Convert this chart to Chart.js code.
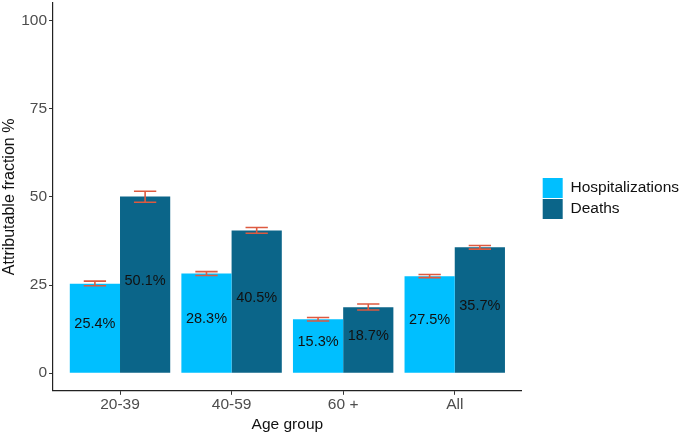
<!DOCTYPE html>
<html>
<head>
<meta charset="utf-8">
<script src="https://cdn.jsdelivr.net/npm/chart.js@4.4.1/dist/chart.umd.min.js"></script>
<style>
  html, body { margin: 0; padding: 0; background: #fff; }
  #wrap { width: 685px; height: 434px; }
</style>
</head>
<body>
<div id="wrap"><canvas id="myChart" width="685" height="434"></canvas></div>
<script>
// Attributable fraction by age group
const ageGroups = ["20-39", "40-59", "60 +", "All"];
const hospitalizations = [25.4, 28.3, 15.3, 27.5];
const deaths = [50.1, 40.5, 18.7, 35.7];
// confidence intervals
const hospLow = [24.8, 27.7, 14.8, 27.1];
const hospHigh = [26.1, 28.8, 15.8, 28.0];
const deathLow = [48.5, 39.7, 17.9, 35.2];
const deathHigh = [51.6, 41.3, 19.6, 36.2];
const yTicks = [0, 25, 50, 75, 100];

const fontName = "'Liberation Sans', Arial, sans-serif";

function toPoints(values) {
	return values.map(function(v, i) { return {x: i + 1, y: v}; });
}

/** Draws the error bars and the % labels on the bars */
const barExtras = {
	id: "barExtras",
	afterDatasetsDraw: function(chart) {
		const ctx = chart.ctx;
		const yScale = chart.scales.y;
		const xScale = chart.scales.x;
		const capHalf = xScale.getPixelForValue(1.1) - xScale.getPixelForValue(1);
		ctx.save();
		chart.data.datasets.forEach(function(ds, di) {
			const meta = chart.getDatasetMeta(di);
			meta.data.forEach(function(bar, i) {
				const val = ds.data[i].y;
				// label in the middle of the bar
				ctx.fillStyle = "#111";
				ctx.font = "14.5px " + fontName;
				ctx.textAlign = "center";
				ctx.textBaseline = "middle";
				ctx.fillText(val.toFixed(1) + "%", bar.x, yScale.getPixelForValue(val / 2 + 1.2));
				// error bar
				const lo = yScale.getPixelForValue(ds.low[i]);
				const hi = yScale.getPixelForValue(ds.high[i]);
				ctx.strokeStyle = "#DD5A40";
				ctx.lineWidth = 1.6;
				ctx.beginPath();
				ctx.moveTo(bar.x, lo); ctx.lineTo(bar.x, hi);
				ctx.moveTo(bar.x - capHalf, lo); ctx.lineTo(bar.x + capHalf, lo);
				ctx.moveTo(bar.x - capHalf, hi); ctx.lineTo(bar.x + capHalf, hi);
				ctx.stroke();
			});
		});
		ctx.restore();
	}
};

/** Moves the legend next to the panel like ggplot does */
const legendPlace = {
	id: "legendPlace",
	afterLayout: function(chart) {
		const lg = chart.legend;
		const dx = 20;
		lg.left += dx; lg.right += dx;
		const h = lg.bottom - lg.top;
		lg.top = 177; lg.bottom = 177 + h;
	}
};

const ctx = document.getElementById("myChart").getContext("2d");
const myChart = new Chart(ctx, {
	type: "bar",
	data: {
		datasets: [{
			label: "Hospitalizations",
			data: toPoints(hospitalizations),
			low: hospLow,
			high: hospHigh,
			backgroundColor: "#00BFFF",
			categoryPercentage: 0.9,
			barPercentage: 1.0
		}, {
			label: "Deaths",
			data: toPoints(deaths),
			low: deathLow,
			high: deathHigh,
			backgroundColor: "#0B6589",
			categoryPercentage: 0.9,
			barPercentage: 1.0
		}]
	},
	options: {
		responsive: false,
		animation: false,
		layout: { padding: { left: 0, right: 16, top: 3, bottom: 0 } },
		plugins: {
			tooltip: { enabled: false },
			legend: {
				position: "right",
				align: "start",
				labels: {
					boxWidth: 20,
					boxHeight: 20,
					padding: 1,
					color: "#111",
					font: { family: fontName, size: 15.5 }
				}
			}
		},
		scales: {
			x: {
				type: "linear",
				min: 0.4,
				max: 4.6,
				offset: false,
				afterBuildTicks: function(scale) {
					scale.ticks = ageGroups.map(function(c, i) { return {value: i + 1}; });
				},
				ticks: {
					autoSkip: false,
					maxRotation: 0,
					padding: 1,
					color: "#4D4D4D",
					font: { family: fontName, size: 15.5 },
					callback: function(v) { return ageGroups[Math.round(v) - 1]; }
				},
				grid: { display: true, offset: false, drawOnChartArea: false, drawTicks: true, tickLength: 4, color: "#333" },
				border: { display: true, color: "#222", width: 1.2 },
				title: { display: true, text: "Age group", color: "#111", padding: { top: 0, bottom: 0 }, font: { family: fontName, size: 15.5 } }
			},
			y: {
				min: -5,
				max: 105,
				afterBuildTicks: function(scale) {
					scale.ticks = yTicks.map(function(t) { return {value: t}; });
				},
				afterFit: function(scale) {
					// tick labels sit inside the range, no need for extra room
					scale.paddingTop = 0;
					scale.paddingBottom = 0;
				},
				ticks: {
					padding: 2,
					color: "#4D4D4D",
					font: { family: fontName, size: 15.5 }
				},
				grid: { display: true, drawOnChartArea: false, drawTicks: true, tickLength: 4, color: "#333" },
				border: { display: true, color: "#222", width: 1.2 },
				title: { display: true, text: "Attributable fraction %", color: "#111", padding: { top: 0, bottom: 0 }, font: { family: fontName, size: 16 } }
			}
		}
	},
	plugins: [barExtras, legendPlace]
});
</script>
</body>
</html>
